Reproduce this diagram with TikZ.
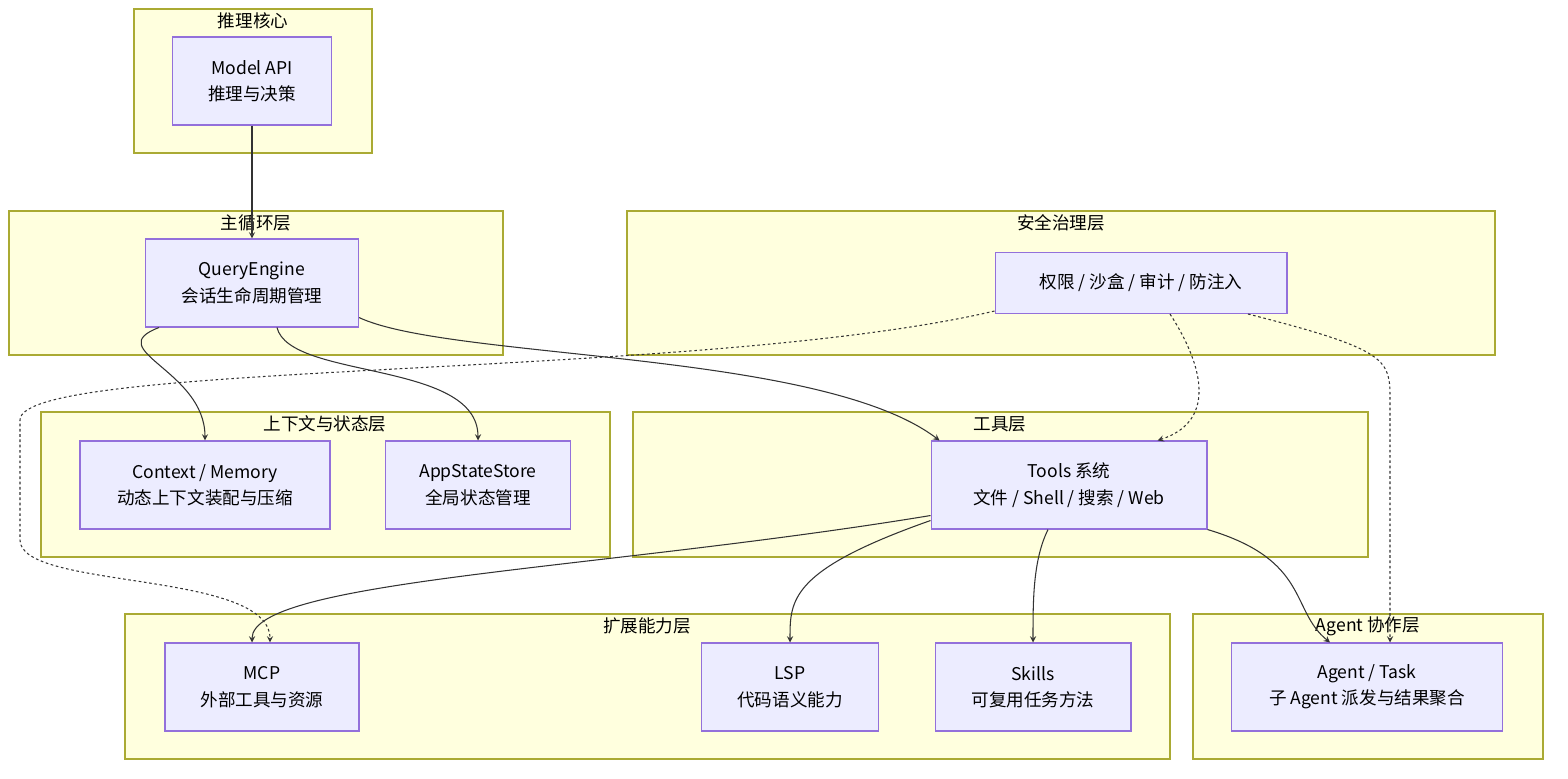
\documentclass[tikz,border=0pt]{standalone}
\usepackage{fontspec}
\setmainfont{Noto Sans CJK SC}
\usetikzlibrary{shapes, arrows}
\definecolor{clusterfill}{HTML}{FFFFDE}
\definecolor{clusterline}{HTML}{AAAA33}
\definecolor{boxfill}{HTML}{ECECFF}
\definecolor{boxline}{HTML}{9370DB}
\definecolor{edgecol}{HTML}{333333}
\tikzstyle{cluster} = [draw=clusterline, fill=clusterfill, line width=0.6pt]
\tikzstyle{title} = [text=black, font=\fontsize{10}{12}\selectfont]
\tikzstyle{box} = [rectangle, minimum height=1.76cm, text centered, draw=boxline, fill=boxfill, line width=0.6pt, font=\fontsize{10}{15}\selectfont]
\tikzstyle{arrow} = [draw=edgecol, line width=0.6pt, ->, >=stealth]
\tikzstyle{dasharrow} = [arrow, dash pattern=on 1.5pt off 1.5pt]

\begin{document}
\begin{tikzpicture}[x=0.02cm, y=-0.02cm, align=center]
    \useasboundingbox (0,0) rectangle (1568,778);
    % clusters
    \draw [cluster] (134,9) rectangle (372,153);
    \node (tcore) [title] at (253,21) {推理核心};
    \draw [cluster] (9,211) rectangle (503,355);
    \node (tloop) [title] at (256,223) {主循环层};
    \draw [cluster] (627,211) rectangle (1495,355);
    \node (tsafe) [title] at (1061,223) {安全治理层};
    \draw [cluster] (41,412) rectangle (610,557);
    \node (tctx) [title] at (325,424) {上下文与状态层};
    \draw [cluster] (633,412) rectangle (1368,557);
    \node (ttool) [title] at (1000,424) {工具层};
    \draw [cluster] (125,614) rectangle (1170,759);
    \node (text) [title] at (647,626) {扩展能力层};
    \draw [cluster] (1193,614) rectangle (1543,759);
    \node (tagent) [title] at (1368,626) {Agent 协作层};

    % nodes
    \node (model) [box, minimum width=3.18cm] at (252,81) {Model API\\推理与决策};
    \node (query) [box, minimum width=4.26cm] at (252,283) {QueryEngine\\会话生命周期管理};
    \node (guard) [box, minimum width=5.84cm, minimum height=1.22cm] at (1141,283) {权限 / 沙盒 / 审计 / 防注入};
    \node (context) [box, minimum width=5.0cm] at (205,485) {Context / Memory\\动态上下文装配与压缩};
    \node (appstate) [box, minimum width=3.7cm] at (478,485) {AppStateStore\\全局状态管理};
    \node (tools) [box, minimum width=5.52cm] at (1069,485) {Tools 系统\\文件 / Shell / 搜索 / Web};
    \node (mcp) [box, minimum width=3.88cm] at (262,687) {MCP\\外部工具与资源};
    \node (lsp) [box, minimum width=3.54cm] at (790,687) {LSP\\代码语义能力};
    \node (skills) [box, minimum width=3.92cm] at (1033,687) {Skills\\可复用任务方法};
    \node (agent) [box, minimum width=5.42cm] at (1367,687) {Agent / Task\\子 Agent 派发与结果聚合};

    % edges
    \draw [arrow] (model) -- (query);
    \draw [arrow] ([xshift=0.28cm]query.south west) .. controls (100,350) and (205,370) .. (context.north);
    \draw [arrow] ([xshift=2.64cm]query.south west) .. controls (290,380) and (478,360) .. (appstate.north);
    \draw [arrow] ([yshift=0.2cm]query.south east) .. controls (450,360) and (820,350) .. ([xshift=0.18cm]tools.north west);
    \draw [arrow] ([yshift=0.28cm]tools.south west) .. controls (600,570) and (252,580) .. ([xshift=-0.2cm]mcp.north);
    \draw [arrow] ([yshift=0.18cm]tools.south west) .. controls (790,570) and (790,600) .. (lsp.north);
    \draw [arrow] ([xshift=-0.42cm]tools.south) .. controls (1033,560) and (1033,600) .. (skills.north);
    \draw [arrow] (tools.south east) .. controls (1310,560) and (1290,610) .. ([xshift=-0.74cm]agent.north);
    \draw [dasharrow] ([yshift=0.06cm]guard.south west) .. controls (700,380) and (20,360) .. (20,420) -- (20,540) .. controls (20,590) and (270,570) .. ([xshift=0.16cm]mcp.north);
    \draw [dasharrow] ([xshift=0.58cm]guard.south) .. controls (1200,360) and (1220,420) .. ([xshift=-1.0cm]tools.north east);
    \draw [dasharrow] ([xshift=2.14cm]guard.south) .. controls (1390,350) and (1390,360) .. (1390,400) -- ([xshift=0.46cm]agent.north);
\end{tikzpicture}
\end{document}
